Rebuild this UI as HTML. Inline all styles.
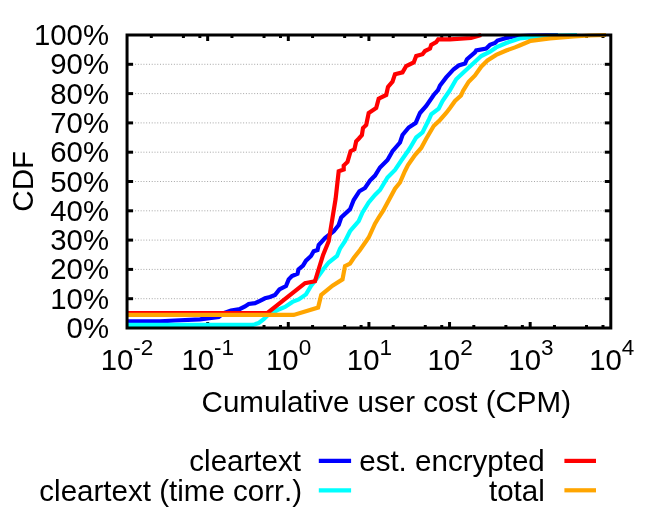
<!DOCTYPE html>
<html><head><meta charset="utf-8"><title>CDF</title>
<style>html,body{margin:0;padding:0;background:#fff;}svg{display:block;}text{font-family:"Liberation Sans",sans-serif;fill:#000;font-kerning:none;}svg{will-change:transform;}</style></head><body>
<svg width="664" height="511" viewBox="0 0 664 511">
<rect width="664" height="511" fill="#fff"/>
<g stroke="#a6a6a6" stroke-width="1" stroke-dasharray="1 1.77" fill="none">
<line x1="135.1" y1="64.30" x2="604.3" y2="64.30"/>
<line x1="135.1" y1="93.60" x2="604.3" y2="93.60"/>
<line x1="135.1" y1="122.90" x2="604.3" y2="122.90"/>
<line x1="135.1" y1="152.20" x2="604.3" y2="152.20"/>
<line x1="135.1" y1="181.50" x2="604.3" y2="181.50"/>
<line x1="135.1" y1="210.80" x2="604.3" y2="210.80"/>
<line x1="135.1" y1="240.10" x2="604.3" y2="240.10"/>
<line x1="135.1" y1="269.40" x2="604.3" y2="269.40"/>
<line x1="135.1" y1="298.70" x2="604.3" y2="298.70"/>
</g>
<g stroke="#000" stroke-width="3" fill="none">
<line x1="127.0" y1="64.30" x2="133.1" y2="64.30"/>
<line x1="610.8" y1="64.30" x2="604.8" y2="64.30"/>
<line x1="127.0" y1="93.60" x2="133.1" y2="93.60"/>
<line x1="610.8" y1="93.60" x2="604.8" y2="93.60"/>
<line x1="127.0" y1="122.90" x2="133.1" y2="122.90"/>
<line x1="610.8" y1="122.90" x2="604.8" y2="122.90"/>
<line x1="127.0" y1="152.20" x2="133.1" y2="152.20"/>
<line x1="610.8" y1="152.20" x2="604.8" y2="152.20"/>
<line x1="127.0" y1="181.50" x2="133.1" y2="181.50"/>
<line x1="610.8" y1="181.50" x2="604.8" y2="181.50"/>
<line x1="127.0" y1="210.80" x2="133.1" y2="210.80"/>
<line x1="610.8" y1="210.80" x2="604.8" y2="210.80"/>
<line x1="127.0" y1="240.10" x2="133.1" y2="240.10"/>
<line x1="610.8" y1="240.10" x2="604.8" y2="240.10"/>
<line x1="127.0" y1="269.40" x2="133.1" y2="269.40"/>
<line x1="610.8" y1="269.40" x2="604.8" y2="269.40"/>
<line x1="127.0" y1="298.70" x2="133.1" y2="298.70"/>
<line x1="610.8" y1="298.70" x2="604.8" y2="298.70"/>
<line x1="151.32" y1="328.0" x2="151.32" y2="325.0"/>
<line x1="151.32" y1="35.0" x2="151.32" y2="38.0"/>
<line x1="183.40" y1="328.0" x2="183.40" y2="325.0"/>
<line x1="183.40" y1="35.0" x2="183.40" y2="38.0"/>
<line x1="199.86" y1="328.0" x2="199.86" y2="325.0"/>
<line x1="199.86" y1="35.0" x2="199.86" y2="38.0"/>
<line x1="207.67" y1="328.0" x2="207.67" y2="322.0"/>
<line x1="207.67" y1="35.0" x2="207.67" y2="41.0"/>
<line x1="231.95" y1="328.0" x2="231.95" y2="325.0"/>
<line x1="231.95" y1="35.0" x2="231.95" y2="38.0"/>
<line x1="264.03" y1="328.0" x2="264.03" y2="325.0"/>
<line x1="264.03" y1="35.0" x2="264.03" y2="38.0"/>
<line x1="280.49" y1="328.0" x2="280.49" y2="325.0"/>
<line x1="280.49" y1="35.0" x2="280.49" y2="38.0"/>
<line x1="288.30" y1="328.0" x2="288.30" y2="322.0"/>
<line x1="288.30" y1="35.0" x2="288.30" y2="41.0"/>
<line x1="312.57" y1="328.0" x2="312.57" y2="325.0"/>
<line x1="312.57" y1="35.0" x2="312.57" y2="38.0"/>
<line x1="344.65" y1="328.0" x2="344.65" y2="325.0"/>
<line x1="344.65" y1="35.0" x2="344.65" y2="38.0"/>
<line x1="361.11" y1="328.0" x2="361.11" y2="325.0"/>
<line x1="361.11" y1="35.0" x2="361.11" y2="38.0"/>
<line x1="368.92" y1="328.0" x2="368.92" y2="322.0"/>
<line x1="368.92" y1="35.0" x2="368.92" y2="41.0"/>
<line x1="393.20" y1="328.0" x2="393.20" y2="325.0"/>
<line x1="393.20" y1="35.0" x2="393.20" y2="38.0"/>
<line x1="425.28" y1="328.0" x2="425.28" y2="325.0"/>
<line x1="425.28" y1="35.0" x2="425.28" y2="38.0"/>
<line x1="441.74" y1="328.0" x2="441.74" y2="325.0"/>
<line x1="441.74" y1="35.0" x2="441.74" y2="38.0"/>
<line x1="449.55" y1="328.0" x2="449.55" y2="322.0"/>
<line x1="449.55" y1="35.0" x2="449.55" y2="41.0"/>
<line x1="473.82" y1="328.0" x2="473.82" y2="325.0"/>
<line x1="473.82" y1="35.0" x2="473.82" y2="38.0"/>
<line x1="505.90" y1="328.0" x2="505.90" y2="325.0"/>
<line x1="505.90" y1="35.0" x2="505.90" y2="38.0"/>
<line x1="522.36" y1="328.0" x2="522.36" y2="325.0"/>
<line x1="522.36" y1="35.0" x2="522.36" y2="38.0"/>
<line x1="530.17" y1="328.0" x2="530.17" y2="322.0"/>
<line x1="530.17" y1="35.0" x2="530.17" y2="41.0"/>
<line x1="554.45" y1="328.0" x2="554.45" y2="325.0"/>
<line x1="554.45" y1="35.0" x2="554.45" y2="38.0"/>
<line x1="586.53" y1="328.0" x2="586.53" y2="325.0"/>
<line x1="586.53" y1="35.0" x2="586.53" y2="38.0"/>
<line x1="602.99" y1="328.0" x2="602.99" y2="325.0"/>
<line x1="602.99" y1="35.0" x2="602.99" y2="38.0"/>
</g>
<g fill="none" stroke-width="4.2" stroke-linejoin="miter" stroke-linecap="butt">
<polyline stroke="#0000ff" points="127.0,321.3 160.0,321.3 175.0,320.5 200.0,319.4 207.5,318.3 218.7,317.0 223.7,313.0 231.0,310.5 240.0,309.0 245.0,306.5 248.7,304.0 255.0,303.2 260.0,300.8 265.0,298.3 270.0,297.0 275.0,295.0 279.4,289.4 286.0,286.0 288.7,279.4 292.0,276.0 297.5,273.7 298.5,269.4 303.0,265.6 306.0,260.6 311.0,256.0 313.7,251.2 317.5,250.0 318.7,245.0 325.0,238.0 333.7,231.2 338.7,225.0 341.2,217.5 350.0,209.4 353.7,200.0 359.4,191.2 365.0,188.0 370.0,180.6 375.0,175.6 380.0,167.5 387.5,160.0 392.5,151.2 400.0,142.5 402.5,135.0 408.7,127.5 415.6,123.0 420.0,113.0 426.2,106.0 433.7,95.0 438.0,90.0 440.0,85.5 446.2,77.4 453.7,69.2 458.7,65.5 465.0,63.6 467.0,59.2 475.0,52.4 476.2,50.5 486.2,48.6 490.0,44.9 495.0,43.0 497.5,40.5 506.2,38.0 515.0,36.3 530.0,35.6 545.0,35.3 558.0,35.0"/>
<polyline stroke="#00ffff" points="127.0,324.9 253.0,324.9 258.7,323.0 263.7,319.2 267.5,315.5 272.5,312.5 277.5,310.0 285.0,306.9 292.5,301.9 298.7,299.4 306.0,294.4 311.0,286.0 317.5,277.5 323.7,268.7 328.7,262.5 337.0,256.0 340.0,248.7 345.0,241.2 350.0,231.2 358.7,221.2 362.5,212.5 368.7,202.5 375.0,195.0 380.0,190.0 387.5,177.5 395.0,170.0 401.0,161.0 408.0,151.0 410.0,148.0 416.2,137.5 422.5,132.5 428.7,120.0 431.2,114.4 438.7,108.7 442.5,101.0 447.5,93.7 449.4,91.0 456.2,79.2 465.0,71.0 473.7,63.0 481.2,56.0 490.0,51.7 496.2,47.4 506.2,43.0 515.0,39.9 519.6,38.5 534.0,36.8 550.0,35.8 577.0,35.0"/>
<polyline stroke="#ff0000" points="127.0,313.0 267.5,313.0 305.0,283.1 315.0,281.2 323.1,255.0 328.7,241.2 335.6,198.9 338.7,171.2 343.7,169.4 343.7,165.6 347.5,161.9 350.6,151.2 354.4,149.4 356.2,141.2 358.7,138.7 361.9,135.0 363.0,128.0 366.2,125.0 368.7,113.0 376.2,108.0 378.7,98.7 386.2,95.0 388.0,86.9 392.5,81.7 395.0,74.2 402.5,72.4 406.2,66.0 413.7,62.4 416.2,56.0 422.5,54.2 425.0,51.0 430.0,48.6 431.2,44.9 436.2,42.2 438.2,39.3 450.0,39.3 471.0,38.0 481.2,35.0"/>
<polyline stroke="#ffa500" points="127.0,314.9 293.7,314.9 318.1,307.5 321.2,295.0 332.5,285.6 342.5,279.4 345.0,266.2 350.0,263.7 353.7,258.0 360.0,250.0 368.7,237.5 375.0,223.7 378.7,217.5 383.0,211.0 390.0,198.0 395.0,188.7 400.0,182.5 405.0,171.0 408.0,165.0 415.0,155.0 421.2,148.0 426.2,138.7 433.7,126.0 440.0,120.0 446.2,113.0 450.0,108.0 455.0,101.0 461.0,95.6 463.0,91.0 468.7,81.7 475.0,75.5 481.2,66.7 487.5,60.5 496.2,54.9 506.2,50.5 515.0,47.4 519.6,45.5 530.7,40.8 550.0,38.4 573.9,36.5 590.0,35.5 606.0,35.0"/>
</g>
<rect x="127.05" y="35.00" width="483.75" height="293.00" fill="none" stroke="#000" stroke-width="3"/>
<g font-size="29.33" text-anchor="end">
<text x="109" y="338.0">0%</text>
<text x="109" y="308.7">10%</text>
<text x="109" y="279.4">20%</text>
<text x="109" y="250.1">30%</text>
<text x="109" y="220.8">40%</text>
<text x="109" y="191.5">50%</text>
<text x="109" y="162.2">60%</text>
<text x="109" y="132.9">70%</text>
<text x="109" y="103.6">80%</text>
<text x="109" y="74.3">90%</text>
<text x="109" y="45.0">100%</text>
</g>
<g font-size="29.33" text-anchor="middle">
<text x="127.0" y="370.3">10<tspan font-size="22.5" dy="-15.2">-2</tspan></text>
<text x="207.8" y="370.3">10<tspan font-size="22.5" dy="-15.2">-1</tspan></text>
<text x="288.6" y="370.3">10<tspan font-size="22.5" dy="-15.2">0</tspan></text>
<text x="369.4" y="370.3">10<tspan font-size="22.5" dy="-15.2">1</tspan></text>
<text x="450.1" y="370.3">10<tspan font-size="22.5" dy="-15.2">2</tspan></text>
<text x="530.9" y="370.3">10<tspan font-size="22.5" dy="-15.2">3</tspan></text>
<text x="611.7" y="370.3">10<tspan font-size="22.5" dy="-15.2">4</tspan></text>
</g>
<text font-size="29.55" text-anchor="middle" x="386.3" y="411.6">Cumulative user cost (CPM)</text>
<text font-size="29.55" text-anchor="middle" transform="translate(32.8,181.3) rotate(-90)">CDF</text>
<g font-size="29.55" text-anchor="end">
<text x="301" y="471.1">cleartext</text>
<text x="302" y="500.5">cleartext (time corr.)</text>
<text x="544.8" y="471.1">est. encrypted</text>
<text x="544.8" y="500.5">total</text>
</g>
<g stroke-width="4.2" fill="none">
<line x1="318.8" x2="351.1" y1="460.9" y2="460.9" stroke="#0000ff"/>
<line x1="318.8" x2="351.1" y1="490.3" y2="490.3" stroke="#00ffff"/>
<line x1="564.4" x2="596" y1="460.9" y2="460.9" stroke="#ff0000"/>
<line x1="564.4" x2="596" y1="490.3" y2="490.3" stroke="#ffa500"/>
</g>
</svg></body></html>
